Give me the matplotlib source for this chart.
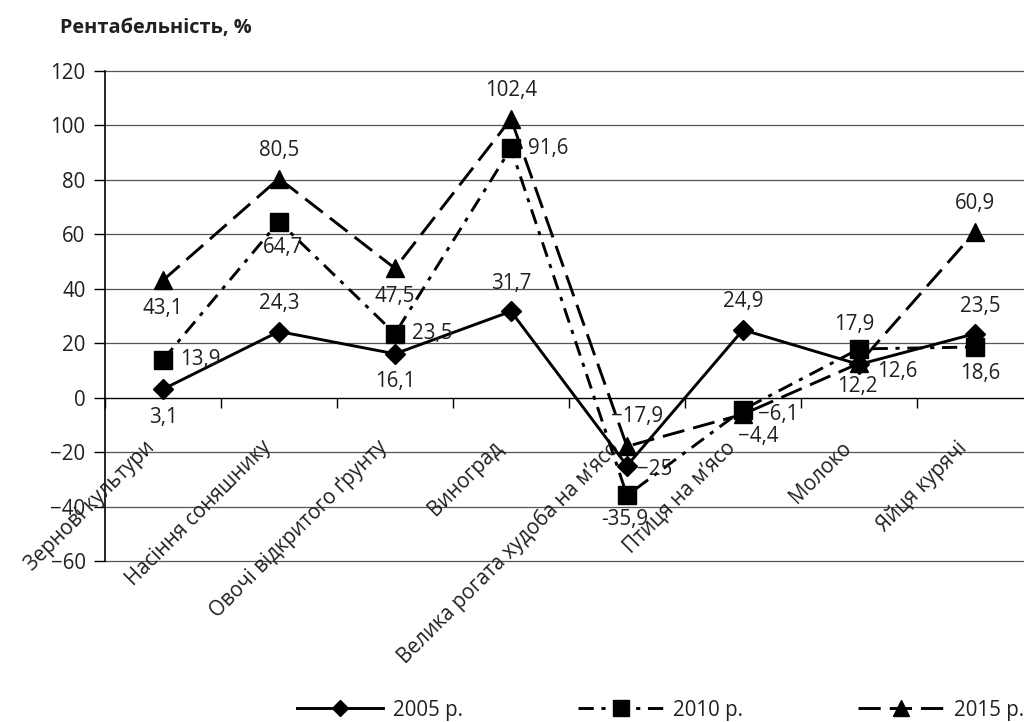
import matplotlib.pyplot as plt

# Дані
categories = ['Зернові культури', 'Насіння соняшнику', 'Овочі відкритого ґрунту', 'Виноград',
              'Велика рогата худоба на м’ясо', 'Птиця на м’ясо', 'Молоко', 'Яйця курячі']
y2005 = [3.1, 24.3, 16.1, 31.7, -25, 24.9, 12.2, 23.5]
y2010 = [13.9, 64.7, 23.5, 91.6, -35.9, -4.4, 17.9, 18.6]
y2015 = [43.1, 80.5, 47.5, 102.4, -17.9, -6.1, 12.6, 60.9]
labels2005 = ['3,1', '24,3', '16,1', '31,7', '−25', '24,9', '12,2', '23,5']
labels2010 = ['13,9', '64,7', '23,5', '91,6', '-35,9', '−4,4', '17,9', '18,6']
labels2015 = ['43,1', '80,5', '47,5', '102,4', '−17,9', '−6,1', '12,6', '60,9']
y_ticks = [-60, -40, -20, 0, 20, 40, 60, 80, 100, 120]
y_ticklabels = ['−60', '−40', '−20', '0', '20', '40', '60', '80', '100', '120']
series_names = ['2005 р.', '2010 р.', '2015 р.']
y_title = 'Рентабельність, %'

plt.rcParams['font.family'] = ['Open Sans', 'DejaVu Sans']
plt.rcParams['lines.scale_dashes'] = False
txt_color = '#231f20'
fs = 14.8

fig = plt.figure(figsize=(10.24, 7.22), dpi=100)
ax = fig.add_axes([0.1025, 0.223, 0.9063, 0.6787])

x = list(range(len(categories)))

# Лінії
ax.plot(x, y2005, color='black', linewidth=2.1, marker='D', markersize=10,
        label=series_names[0], zorder=4)
ax.plot(x, y2010, color='black', linewidth=2.1, marker='s', markersize=13,
        dashes=(11, 5.5, 3, 5.5), label=series_names[1], zorder=3)
ax.plot(x, y2015, color='black', linewidth=2.1, marker='^', markersize=13,
        dashes=(16, 6.5), label=series_names[2], zorder=3)

# Підписи даних: зміщення в пікселях (dx, dy), вирівнювання
A, B = (0, 28, 'center'), (0, -28, 'center')
R = (17, 0, 'left')
off2005 = [B, A, B, A, (10, -4, 'left'), A, (-2, -22, 'center'), (5, 27, 'center')]
off2010 = [R, (4, -26, 'center'), R, R, (-2, -24, 'center'), (15, -27, 'center'),
           (-5, 24, 'center'), (5, -26, 'center')]
off2015 = [B, A, B, A, (10, 30, 'center'), (15, 0, 'left'), (18, -8, 'left'), A]

for ys, labs, offs in [(y2005, labels2005, off2005), (y2010, labels2010, off2010),
                       (y2015, labels2015, off2015)]:
    for i, (v, t) in enumerate(zip(ys, labs)):
        dx, dy, ha = offs[i]
        ax.annotate(t, (i, v), xytext=(dx, dy), textcoords='offset pixels',
                    ha=ha, va='center', fontsize=fs, color=txt_color, zorder=6)

# Осі
ax.set_xlim(-0.5, len(categories) - 0.5)
ax.set_ylim(-60, 120)
ax.set_yticks(y_ticks)
ax.set_yticklabels(y_ticklabels, fontsize=fs, color=txt_color)
ax.tick_params(axis='y', direction='out', length=8, width=1, pad=6)
for t in y_ticks:
    if t != 0:
        ax.axhline(t, color='#555555', linewidth=0.9, zorder=1, clip_on=False)

ax.spines['top'].set_visible(False)
ax.spines['right'].set_visible(False)
ax.spines['bottom'].set_position(('data', 0))
ax.spines['bottom'].set_linewidth(1)
ax.spines['left'].set_linewidth(1.2)

ax.set_xticks([i - 0.5 for i in range(len(categories) + 1)])
ax.set_xticklabels([])
ax.tick_params(axis='x', direction='out', length=7, width=1)

for i, c in enumerate(categories):
    ax.text(i - 0.16, -14.5, c, rotation=45, rotation_mode='anchor', ha='right', va='top',
            fontsize=fs, color=txt_color)

fig.text(0.0586, 0.961, y_title, ha='left', va='center', fontsize=14.3,
         fontweight='bold', color=txt_color)

fig.legend(loc='center', bbox_to_anchor=(0.645, 0.0166), ncol=3, frameon=False,
           fontsize=fs, handlelength=4.2, handletextpad=0.45, columnspacing=5.6,
           borderpad=0, labelcolor=txt_color, markerscale=0.85)

fig.savefig('out.png', dpi=100)
